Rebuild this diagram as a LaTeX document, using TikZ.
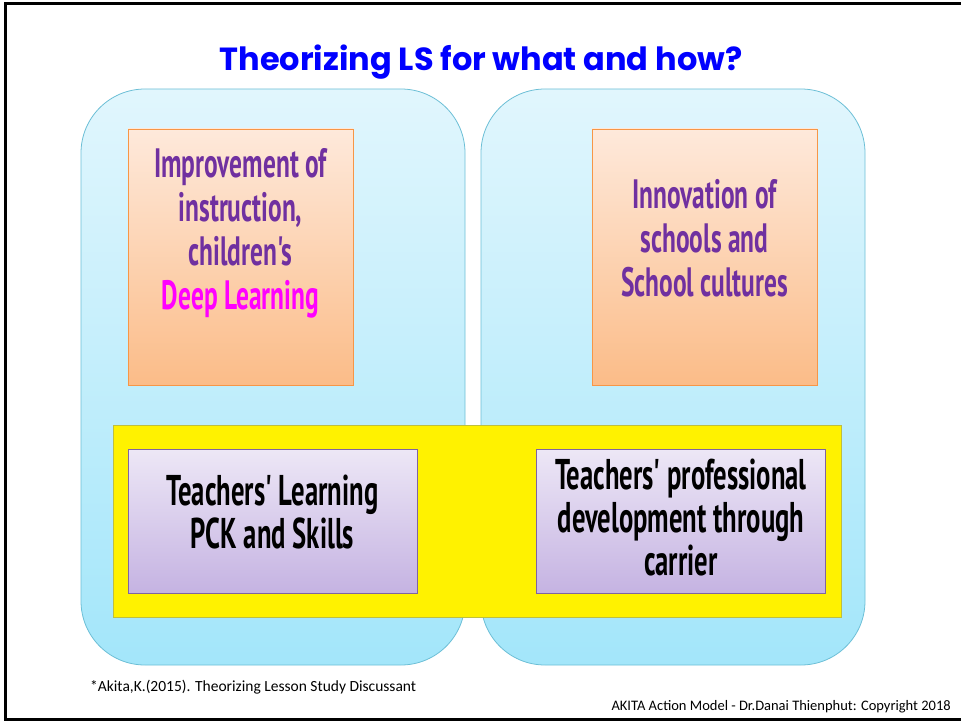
\documentclass[tikz,border=0pt]{standalone}
\usepackage{fontspec}
\usepackage{tikz}
\usetikzlibrary{positioning}
\newfontfamily\titlefont{Poppins}
\newfontfamily\boxfont[FakeStretch=0.62]{PT Sans}
\newfontfamily\notefont{Carlito}
\definecolor{panelline}{HTML}{6CBFD6}
\definecolor{paneltop}{HTML}{E1F6FD}
\definecolor{panelbot}{HTML}{A3E6FA}
\definecolor{goaltop}{HTML}{FEE9DB}
\definecolor{goalbot}{HTML}{FBBC88}
\definecolor{goalline}{HTML}{F79646}
\definecolor{teachtop}{HTML}{EDE7F6}
\definecolor{teachbot}{HTML}{C5B3E2}
\definecolor{teachline}{HTML}{8064A2}
\definecolor{goaltext}{HTML}{7030A0}
\definecolor{deeptext}{HTML}{FF00FF}
\definecolor{baseline}{HTML}{BFBF3F}

\begin{document}
\begin{tikzpicture}[x=1pt,y=-1pt,
    panel/.style={rectangle,rounded corners=64pt,draw=panelline,line width=0.8pt,
      top color=paneltop,bottom color=panelbot,minimum width=384pt,minimum height=576pt},
    goal/.style={rectangle,draw=goalline,line width=0.8pt,
      top color=goaltop,bottom color=goalbot,minimum width=225pt,minimum height=256pt},
    teach/.style={rectangle,draw=teachline,line width=0.8pt,
      top color=teachtop,bottom color=teachbot,minimum width=289pt,minimum height=144pt},
    goaltxt/.style={align=center,text=goaltext,font=\boxfont\bfseries\fontsize{41}{44}\selectfont},
    teachtxt/.style={align=center,text=black,font=\boxfont\bfseries\fontsize{43}{43}\selectfont},
    note/.style={font=\notefont\fontsize{14.5}{16}\selectfont,inner sep=0pt}]
       \useasboundingbox (0,0) rectangle (961,722);
       % frame
       \draw [line width=3pt] (961,3.5) -- (5.5,3.5) -- (5.5,719.5) -- (961,719.5);
       \node [font=\titlefont\bfseries\fontsize{32}{36}\selectfont,text=blue] (title) at (481,62) {Theorizing LS for what and how?};
       % two panels
       \node [panel] (p_left) at (273,377) {};
       \node [panel] (p_right) at (673,377) {};
       \node [goal] (g_left) at (240.5,257) {};
       \node [goal] (g_right) at (704.5,257) {};
       \node [goaltxt] (g_left_t) at (240.5,233) {Improvement of\\instruction,\\children's\\\textcolor{deeptext}{Deep Learning}};
       \node [goaltxt] (g_right_t) at (704.5,238) {Innovation of\\schools and\\School cultures};
       % teachers band
       \node [rectangle,draw=baseline,line width=0.6pt,fill=yellow,minimum width=728pt,minimum height=192pt] (band) at (477,521) {};
       \node [teach] (t_left) at (272.5,521) {};
       \node [teach] (t_right) at (681,521) {};
       \node [teachtxt] (t_left_t) at (272.5,512) {Teachers' Learning\\PCK and Skills};
       \node [teachtxt] (t_right_t) at (681,518) {Teachers' professional\\development through\\carrier};
       % footnotes
       \node [note,font=\notefont\fontsize{15.5}{18}\selectfont,anchor=base west] (cite) at (90,691) {*Akita,K.(2015). Theorizing Lesson Study Discussant};
       \node [note,anchor=base east] (credit) at (951,710) {AKITA Action Model - Dr.Danai Thienphut: Copyright 2018};
    \end{tikzpicture}
\end{document}
